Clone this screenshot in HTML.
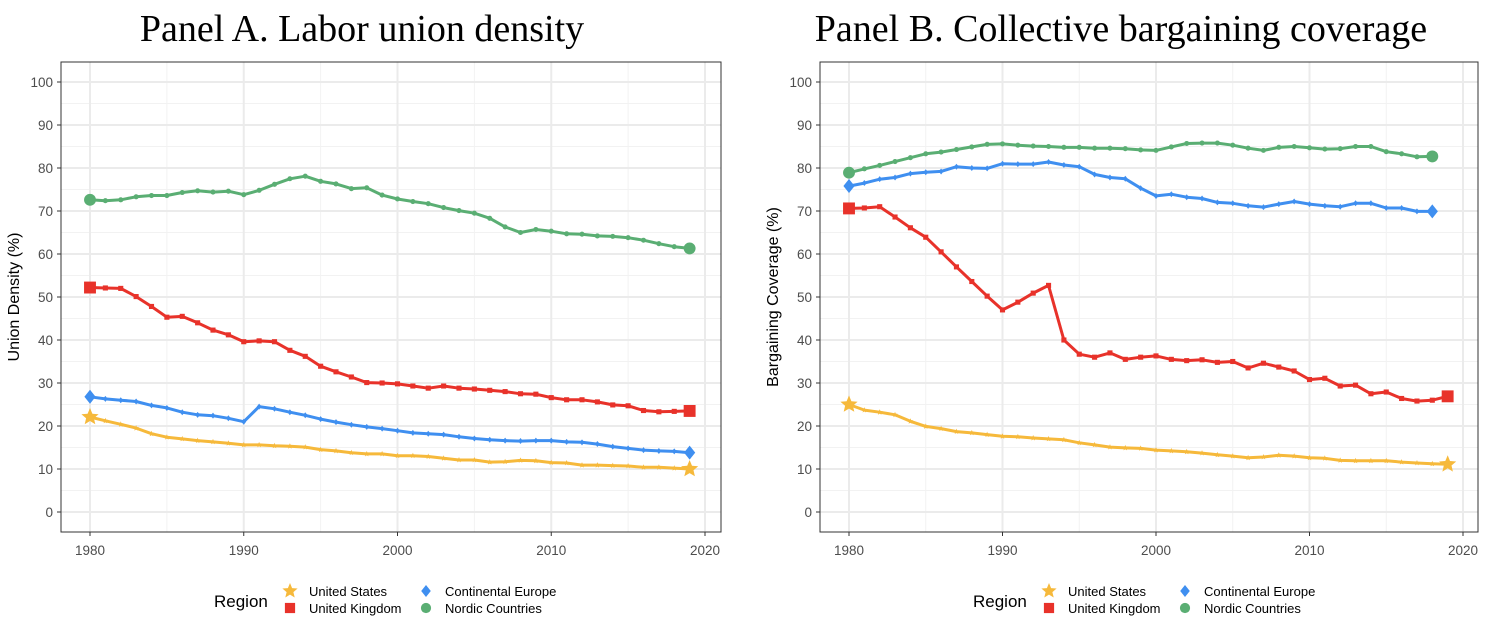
<!DOCTYPE html>
<html><head><meta charset="utf-8"><style>
html,body{margin:0;padding:0;background:#fff;}
svg{display:block;font-family:"Liberation Sans",Arial,sans-serif;}
</style></head><body>
<svg id="chart" width="1492" height="634" viewBox="0 0 1492 634" xmlns="http://www.w3.org/2000/svg"></svg>
<script>
const years = Array.from({length:40},(_,i)=>1980+i);
const yTicks = [0,10,20,30,40,50,60,70,80,90,100];
const xTicks = [1980,1990,2000,2010,2020];
const seriesNames = ["United States","United Kingdom","Continental Europe","Nordic Countries"];
const seriesColors = ["#f6b93b","#e8322a","#3f8ff0","#5aae73"];

const aUS = [22.1,21.2,20.4,19.5,18.2,17.4,17.0,16.6,16.3,16.0,15.6,15.6,15.4,15.3,15.1,14.5,14.2,13.8,13.5,13.5,13.1,13.1,12.9,12.5,12.1,12.1,11.6,11.7,12.0,11.9,11.5,11.4,10.9,10.9,10.8,10.7,10.4,10.4,10.2,10.0];
const aUK = [52.2,52.1,52.0,50.1,47.8,45.3,45.5,44.0,42.3,41.2,39.6,39.8,39.6,37.6,36.2,33.9,32.6,31.4,30.1,30.0,29.8,29.3,28.8,29.3,28.8,28.6,28.3,28.0,27.5,27.4,26.6,26.1,26.1,25.6,24.9,24.7,23.6,23.3,23.4,23.5];
const aCE = [26.8,26.3,26.0,25.7,24.8,24.2,23.2,22.6,22.4,21.8,21.0,24.5,24.0,23.2,22.5,21.6,20.9,20.3,19.8,19.4,18.9,18.4,18.2,18.0,17.5,17.1,16.8,16.6,16.5,16.6,16.6,16.3,16.2,15.8,15.2,14.8,14.4,14.2,14.1,13.8];
const aNO = [72.6,72.4,72.6,73.3,73.6,73.6,74.3,74.7,74.4,74.6,73.8,74.8,76.2,77.5,78.1,76.9,76.3,75.2,75.4,73.7,72.8,72.2,71.7,70.8,70.1,69.5,68.3,66.3,65.0,65.7,65.3,64.7,64.6,64.2,64.1,63.8,63.2,62.4,61.7,61.3];

const bUS = [25.0,23.7,23.2,22.6,21.1,19.9,19.4,18.7,18.4,18.0,17.6,17.5,17.2,17.0,16.8,16.1,15.6,15.1,14.9,14.8,14.4,14.2,14.0,13.7,13.3,13.0,12.6,12.8,13.2,13.0,12.6,12.5,12.0,11.9,11.9,11.9,11.6,11.4,11.2,11.1];
const bUK = [70.6,70.7,71.0,68.6,66.1,63.9,60.5,57.0,53.6,50.2,47.0,48.8,50.9,52.7,40.0,36.7,36.0,37.0,35.5,36.0,36.3,35.5,35.2,35.4,34.8,35.0,33.5,34.6,33.7,32.8,30.8,31.1,29.3,29.5,27.5,27.9,26.4,25.8,26.0,26.9];
const bCE = [75.8,76.5,77.4,77.8,78.7,79.0,79.2,80.3,80.0,79.9,81.0,80.9,80.9,81.4,80.7,80.3,78.5,77.8,77.5,75.3,73.5,73.9,73.2,72.9,72.0,71.8,71.2,70.9,71.6,72.2,71.6,71.2,71.0,71.8,71.8,70.7,70.7,69.9,69.9];
const bNO = [78.9,79.8,80.6,81.5,82.4,83.3,83.7,84.3,84.9,85.5,85.6,85.3,85.1,85.0,84.8,84.8,84.6,84.6,84.5,84.2,84.1,84.9,85.7,85.8,85.8,85.3,84.6,84.1,84.8,85.0,84.7,84.4,84.5,85.0,85.0,83.8,83.3,82.6,82.7];

const NS="http://www.w3.org/2000/svg";
const svg=document.getElementById('chart');
function mk(tag,attrs,parent){const e=document.createElementNS(NS,tag);for(const k in attrs)e.setAttribute(k,attrs[k]);(parent||svg).appendChild(e);return e;}

function shape(kind,x,y,r,color,g){
  let e;
  if(kind==="star"){
    let p=[];for(let i=0;i<10;i++){const a=-Math.PI/2+i*Math.PI/5;const rr=i%2?r*0.45:r;p.push((x+rr*Math.cos(a)).toFixed(1)+","+(y+rr*Math.sin(a)).toFixed(1));}
    e=mk('polygon',{points:p.join(' '),fill:color},g);
  }else if(kind==="square"){
    e=mk('rect',{x:x-r*0.85,y:y-r*0.85,width:r*1.7,height:r*1.7,fill:color},g);
  }else if(kind==="diamond"){
    e=mk('polygon',{points:`${x},${y-r} ${x+r*0.8},${y} ${x},${y+r} ${x-r*0.8},${y}`,fill:color},g);
  }else{
    e=mk('circle',{cx:x,cy:y,r:r*0.85,fill:color},g);
  }
  return e;
}
const kinds=["star","square","diamond","circle"];

function panel(id,left,right,x0px,x1px,title,titleX,yTitle,data){
  const top=62,bottom=532;
  const yS=v=>512-v*4.3;
  const xS=yr=>x0px+(yr-1980)*(x1px-x0px)/40;
  const g=mk('g',{});
  
  
  for(let v=5;v<=105;v+=10){if(yS(v)>top)mk('line',{x1:left,x2:right,y1:yS(v),y2:yS(v),stroke:'#f2f2f2','stroke-width':1},g);}
  for(let yr=1975;yr<=2025;yr+=10){const x=xS(yr);if(x>left&&x<right)mk('line',{x1:x,x2:x,y1:top,y2:bottom,stroke:'#f2f2f2','stroke-width':1},g);}
  yTicks.forEach(v=>{mk('line',{x1:left,x2:right,y1:yS(v),y2:yS(v),stroke:'#ebebeb','stroke-width':2},g);
    const t=mk('text',{x:left-8,y:yS(v)+5,'text-anchor':'end','font-size':13.5,fill:'#4d4d4d'},g);t.textContent=v;
    mk('line',{x1:left-4,x2:left,y1:yS(v),y2:yS(v),stroke:'#333','stroke-width':1},g);});
  xTicks.forEach(yr=>{const x=xS(yr);mk('line',{x1:x,x2:x,y1:top,y2:bottom,stroke:'#ebebeb','stroke-width':2},g);
    mk('line',{x1:x,x2:x,y1:bottom,y2:bottom+4,stroke:'#333','stroke-width':1},g);
    const t=mk('text',{x:x,y:bottom+23,'text-anchor':'middle','font-size':13.5,fill:'#4d4d4d'},g);t.textContent=yr;});
  const b=mk('rect',{x:left,y:top,width:right-left,height:bottom-top,fill:'none',stroke:'#333','stroke-width':1},g);
  
  data.forEach((arr,si)=>{
    const col=seriesColors[si];
    const pts=arr.map((v,i)=>xS(years[i]).toFixed(1)+","+yS(v).toFixed(1)).join(' ');
    const sg=mk('g',{},g);
    
    
    mk('polyline',{points:pts,fill:'none',stroke:col,'stroke-width':3,'stroke-linejoin':'round'},sg);
    arr.forEach((v,i)=>{const end=(i===0||i===arr.length-1);shape(kinds[si],xS(years[i]),yS(v),end?(si===0?9:7):3,col,sg);});
  });
  const tt=mk('text',{x:titleX,y:41,'text-anchor':'middle','font-size':38,'font-family':'"Liberation Serif",serif',fill:'#000'},g);
  tt.textContent=title;
  const yt=mk('text',{x:0,y:0,transform:`translate(${left-42},${(top+bottom)/2}) rotate(-90)`,'text-anchor':'middle','font-size':16,fill:'#000'},g);
  yt.textContent=yTitle;
  const lg=mk('g',{},g);
  
  const lx=titleX-148;
  const rt=mk('text',{x:lx,y:607,'font-size':17,fill:'#000'},lg);rt.textContent='Region';
  const pos=[[lx+76,596],[lx+76,613],[lx+212,596],[lx+212,613]];
  seriesNames.forEach((n,i)=>{
    shape(kinds[i],pos[i][0],pos[i][1]-5,i===0?8:6,seriesColors[i],lg);
    const t=mk('text',{x:pos[i][0]+19,y:pos[i][1],'font-size':13,fill:'#000'},lg);t.textContent=n;
    
  });
}
panel('panel-a',61,721,90,705,'Panel A. Labor union density',362,'Union Density (%)',[aUS,aUK,aCE,aNO]);
panel('panel-b',820,1478,849,1463,'Panel B. Collective bargaining coverage',1121,'Bargaining Coverage (%)',[bUS,bUK,bCE,bNO]);
</script>
</body></html>
